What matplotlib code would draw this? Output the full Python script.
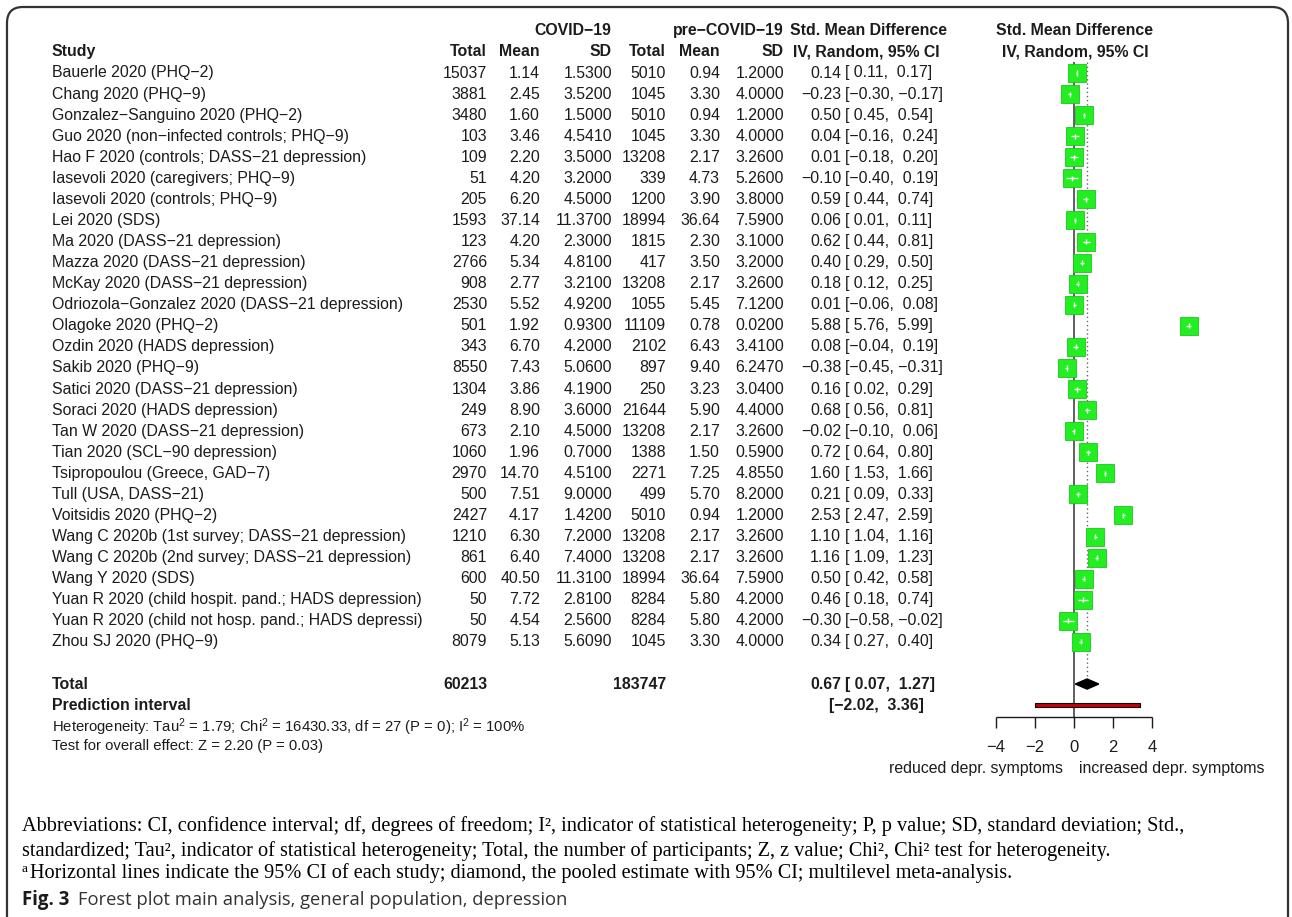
import matplotlib
matplotlib.use("Agg")
import matplotlib.pyplot as plt
from matplotlib.patches import FancyBboxPatch, Polygon, Rectangle
from matplotlib.transforms import blended_transform_factory, IdentityTransform

plt.rcParams['font.family'] = ['Liberation Sans', 'DejaVu Sans']
plt.rcParams['mathtext.fontset'] = 'custom'
plt.rcParams['mathtext.rm'] = 'Liberation Sans'
plt.rcParams['mathtext.it'] = 'Liberation Sans:italic'

# ---------------- data ----------------
studies = [
    "Bauerle 2020 (PHQ−2)",
    "Chang 2020 (PHQ−9)",
    "Gonzalez−Sanguino 2020 (PHQ−2)",
    "Guo 2020 (non−infected controls; PHQ−9)",
    "Hao F 2020 (controls; DASS−21 depression)",
    "Iasevoli 2020 (caregivers; PHQ−9)",
    "Iasevoli 2020 (controls; PHQ−9)",
    "Lei 2020 (SDS)",
    "Ma 2020 (DASS−21 depression)",
    "Mazza 2020 (DASS−21 depression)",
    "McKay 2020 (DASS−21 depression)",
    "Odriozola−Gonzalez 2020 (DASS−21 depression)",
    "Olagoke 2020 (PHQ−2)",
    "Ozdin 2020 (HADS depression)",
    "Sakib 2020 (PHQ−9)",
    "Satici 2020 (DASS−21 depression)",
    "Soraci 2020 (HADS depression)",
    "Tan W 2020 (DASS−21 depression)",
    "Tian 2020 (SCL−90 depression)",
    "Tsipropoulou (Greece, GAD−7)",
    "Tull (USA, DASS−21)",
    "Voitsidis 2020 (PHQ−2)",
    "Wang C 2020b (1st survey; DASS−21 depression)",
    "Wang C 2020b (2nd survey; DASS−21 depression)",
    "Wang Y 2020 (SDS)",
    "Yuan R 2020 (child hospit. pand.; HADS depression)",
    "Yuan R 2020 (child not hosp. pand.; HADS depressi)",
    "Zhou SJ 2020 (PHQ−9)",
]
n_covid = [15037, 3881, 3480, 103, 109, 51, 205, 1593, 123, 2766, 908, 2530, 501, 343,
           8550, 1304, 249, 673, 1060, 2970, 500, 2427, 1210, 861, 600, 50, 50, 8079]
mean_covid = [1.14, 2.45, 1.60, 3.46, 2.20, 4.20, 6.20, 37.14, 4.20, 5.34, 2.77, 5.52, 1.92, 6.70,
              7.43, 3.86, 8.90, 2.10, 1.96, 14.70, 7.51, 4.17, 6.30, 6.40, 40.50, 7.72, 4.54, 5.13]
sd_covid = [1.53, 3.52, 1.50, 4.541, 3.50, 3.20, 4.50, 11.37, 2.30, 4.81, 3.21, 4.92, 0.93, 4.20,
            5.06, 4.19, 3.60, 4.50, 0.70, 4.51, 9.00, 1.42, 7.20, 7.40, 11.31, 2.81, 2.56, 5.609]
n_pre = [5010, 1045, 5010, 1045, 13208, 339, 1200, 18994, 1815, 417, 13208, 1055, 11109, 2102,
         897, 250, 21644, 13208, 1388, 2271, 499, 5010, 13208, 13208, 18994, 8284, 8284, 1045]
mean_pre = [0.94, 3.30, 0.94, 3.30, 2.17, 4.73, 3.90, 36.64, 2.30, 3.50, 2.17, 5.45, 0.78, 6.43,
            9.40, 3.23, 5.90, 2.17, 1.50, 7.25, 5.70, 0.94, 2.17, 2.17, 36.64, 5.80, 5.80, 3.30]
sd_pre = [1.20, 4.00, 1.20, 4.00, 3.26, 5.26, 3.80, 7.59, 3.10, 3.20, 3.26, 7.12, 0.02, 3.41,
          6.247, 3.04, 4.40, 3.26, 0.59, 4.855, 8.20, 1.20, 3.26, 3.26, 7.59, 4.20, 4.20, 4.00]
smd = [0.14, -0.23, 0.50, 0.04, 0.01, -0.10, 0.59, 0.06, 0.62, 0.40, 0.18, 0.01, 5.88, 0.08,
       -0.38, 0.16, 0.68, -0.02, 0.72, 1.60, 0.21, 2.53, 1.10, 1.16, 0.50, 0.46, -0.30, 0.34]
ci_low = [0.11, -0.30, 0.45, -0.16, -0.18, -0.40, 0.44, 0.01, 0.44, 0.29, 0.12, -0.06, 5.76, -0.04,
          -0.45, 0.02, 0.56, -0.10, 0.64, 1.53, 0.09, 2.47, 1.04, 1.09, 0.42, 0.18, -0.58, 0.27]
ci_high = [0.17, -0.17, 0.54, 0.24, 0.20, 0.19, 0.74, 0.11, 0.81, 0.50, 0.25, 0.08, 5.99, 0.19,
           -0.31, 0.29, 0.81, 0.06, 0.80, 1.66, 0.33, 2.59, 1.16, 1.23, 0.58, 0.74, -0.02, 0.40]

total_covid = 60213
total_pre = 183747
pooled, pooled_low, pooled_high = 0.67, 0.07, 1.27
pred_low, pred_high = -2.02, 3.36
axis_ticks = [-4, -2, 0, 2, 4]

# ---------------- layout ----------------
W, H = 1292, 917
fig = plt.figure(figsize=(W / 100, H / 100), dpi=100)
ax = fig.add_axes([0, 0, 1, 1])
ax.axis('off')

x0_px, unit_px = 1074, 19.5       # position of 0 and pixels per SMD unit
row0_px, row_px = 73, 21.07        # first study row and row spacing
ax.set_xlim(-x0_px / unit_px, (W - x0_px) / unit_px)
ax.set_ylim((H - row0_px) / row_px, -row0_px / row_px)

tr = blended_transform_factory(fig.transFigure, ax.transData)
ink = '#1c1c1c'
fs = 11.4


def put(px, row, s, ha='left', bold=False, size=fs, **kw):
    ax.text(px / W, row, s, transform=tr, ha=ha, va='center', fontsize=size,
            fontweight='bold' if bold else 'normal', color=ink, **kw)


def num(v, fmt):
    return format(v, fmt).replace('-', '−')


def bracket(lo, hi):
    a = num(lo, '.2f') if lo < 0 else ' ' + num(lo, '.2f')
    b = num(hi, '.2f') if hi < 0 else ' ' + num(hi, '.2f')
    return '[' + a + ', ' + b + ']'


# headers
put(611, -2, 'COVID−19', ha='right', bold=True)
put(784, -2, 'pre−COVID−19', ha='right', bold=True)
put(868, -2, 'Std. Mean Difference', ha='center', bold=True)
put(1075, -2, 'Std. Mean Difference', ha='center', bold=True)
put(52, -1, 'Study', bold=True)
for px, s in [(487, 'Total'), (540, 'Mean'), (612, 'SD'), (666, 'Total'), (720, 'Mean'), (784, 'SD')]:
    put(px, -1, s, ha='right', bold=True)
put(866, -1, 'IV, Random, 95% CI', ha='center', bold=True)
put(1075, -1, 'IV, Random, 95% CI', ha='center', bold=True)

# study rows
for i, name in enumerate(studies):
    put(52, i, name)
    put(487, i, str(n_covid[i]), ha='right')
    put(540, i, num(mean_covid[i], '.2f'), ha='right')
    put(612, i, num(sd_covid[i], '.4f'), ha='right')
    put(666, i, str(n_pre[i]), ha='right')
    put(720, i, num(mean_pre[i], '.2f'), ha='right')
    put(784, i, num(sd_pre[i], '.4f'), ha='right')
    put(841, i, num(smd[i], '.2f'), ha='right')
    put(845, i, bracket(ci_low[i], ci_high[i]))

rows = list(range(len(studies)))
r_tot = len(studies) + 1
r_pred = r_tot + 1

# summary rows
put(52, r_tot, 'Total', bold=True)
put(487, r_tot, str(total_covid), ha='right', bold=True)
put(666, r_tot, str(total_pre), ha='right', bold=True)
put(841, r_tot, num(pooled, '.2f'), ha='right', bold=True)
put(845, r_tot, bracket(pooled_low, pooled_high), bold=True)
put(52, r_pred, 'Prediction interval', bold=True)
put(829, r_pred, bracket(pred_low, pred_high), bold=True)
put(52, r_pred + 1.05,
    'Heterogeneity: Tau$^2$ = 1.79; Chi$^2$ = 16430.33, df = 27 (P = 0); I$^2$ = 100%',
    size=10.7)
put(52, r_pred + 1.95, 'Test for overall effect: Z = 2.20 (P = 0.03)', size=10.7)

# reference lines
ax.vlines(0, -0.5, r_pred + 0.55, color='#444444', lw=1.2, zorder=1)
ax.vlines(pooled, -0.5, r_tot - 0.3, color='#666666', lw=1.0, linestyles=(0, (1, 2)), zorder=1)

# study squares and CIs
ax.plot(smd, rows, ls='none', marker='s', ms=12.5, mfc='#22ee22', mec='#19c819', mew=0.6, zorder=3)
ax.hlines(rows, ci_low, ci_high, color='white', lw=1.0, zorder=4)
ax.vlines(smd, [r - 0.12 for r in rows], [r + 0.12 for r in rows], color='white', lw=1.0, zorder=4)

# pooled diamond and prediction interval
ax.add_patch(Polygon([(pooled_low, r_tot), (pooled, r_tot - 0.24), (pooled_high, r_tot),
                      (pooled, r_tot + 0.24)], closed=True, fc='black', ec='black', zorder=3))
ax.add_patch(Rectangle((pred_low, r_pred - 0.11), pred_high - pred_low, 0.22,
                       fc='#cc0000', ec='black', lw=0.8, zorder=3))

# x axis
r_ax = r_pred + 0.55
ax.hlines(r_ax, axis_ticks[0], axis_ticks[-1], color=ink, lw=1.0)
ax.vlines(axis_ticks, r_ax, r_ax + 0.55, color=ink, lw=1.0)
for t in axis_ticks:
    ax.text(t, r_pred + 2.0, num(t, 'd'), ha='center', va='center', fontsize=12, color=ink)
put(1063, r_pred + 3.0, 'reduced depr. symptoms', ha='right')
put(1079, r_pred + 3.0, 'increased depr. symptoms')

# frame
fig.patches.append(FancyBboxPatch((7, -20), 1281, 930, boxstyle='round,pad=0,rounding_size=16',
                                  transform=IdentityTransform(), fc='none', ec='#333333', lw=1.6))

# caption
serif = ['Liberation Serif', 'DejaVu Serif']
cap = dict(fontsize=14.6, family=serif, color='black', va='center')
fig.text(22 / W, 1 - 826 / H,
         'Abbreviations: CI, confidence interval; df, degrees of freedom; I², indicator of statistical '
         'heterogeneity; P, p value; SD, standard deviation; Std.,', **cap)
fig.text(22 / W, 1 - 851 / H,
         'standardized; Tau², indicator of statistical heterogeneity; Total, the number of participants; '
         'Z, z value; Chi², Chi² test for heterogeneity.', **cap)
fig.text(22 / W, 1 - 869 / H, 'a', fontsize=9.5, family=serif, color='black', va='center')
fig.text(30 / W, 1 - 873 / H,
         'Horizontal lines indicate the 95% CI of each study; diamond, the pooled estimate with 95% CI; '
         'multilevel meta-analysis.', **cap)
fig.text(22 / W, 1 - 900 / H, 'Fig. 3', fontsize=13.4, family=['Open Sans', 'DejaVu Sans'],
         fontweight='bold', color='#1a1a1a', va='center')
fig.text(78 / W, 1 - 900 / H, 'Forest plot main analysis, general population, depression', fontsize=13.2,
         family=['Open Sans', 'DejaVu Sans'], color='#333333', va='center')

fig.savefig('out.png', dpi=100)
